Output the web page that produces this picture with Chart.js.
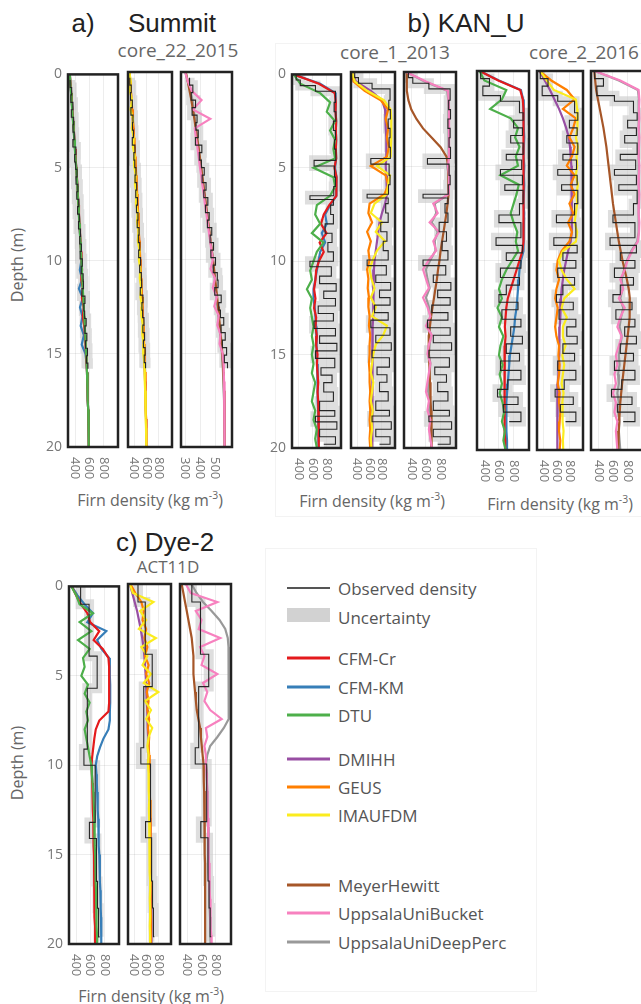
<!DOCTYPE html>
<html>
<head>
<meta charset="utf-8">
<script src="https://cdn.jsdelivr.net/npm/chart.js@4.4.1/dist/chart.umd.min.js"></script>
<style>
  body { margin: 0; width: 641px; height: 1004px; overflow: hidden; background: #fff; position: relative; font-family: "Open Sans", sans-serif; }
  canvas { position: absolute; }
  .t { position: absolute; white-space: nowrap; line-height: 1; transform: translate(-50%, -50%); }
  .big { font-family: "Liberation Sans", Arial, sans-serif; font-size: 26px; color: #222; }
  .sub { font-size: 19px; color: #666; }
  .ax { font-size: 16px; color: #666; }
  .rot { transform: translate(-50%, -50%) rotate(-90deg); }
  .box { position: absolute; border: 1px solid #f3f3f3; }
  .leg { position: absolute; left: 338px; font-size: 17px; color: #555; line-height: 1; transform: translateY(-50%); white-space: nowrap; }
  .sw { position: absolute; left: 287px; width: 43px; height: 3px; transform: translateY(-50%); }
</style>
</head>
<body>

<div class="box" style="left:275px; top:43px; width:380px; height:472px;"></div>
<div class="box" style="left:265px; top:548px; width:270px; height:442px;"></div>

<div class="t big" style="left:83px; top:23px;">a)</div>
<div class="t big" style="left:172px; top:23px;">Summit</div>
<div class="t sub" style="left:178px; top:50px;">core_22_2015</div>
<div class="t big" style="left:466px; top:23px;">b) KAN_U</div>
<div class="t sub" style="left:395px; top:52px;">core_1_2013</div>
<div class="t sub" style="left:584px; top:52px;">core_2_2016</div>
<div class="t big" style="left:165px; top:542px;">c) Dye-2</div>
<div class="t sub" style="left:168px; top:566px; font-size:17px;">ACT11D</div>

<div class="t ax rot" style="left:17px; top:265px;">Depth (m)</div>
<div class="t ax rot" style="left:17px; top:763px;">Depth (m)</div>
<div class="t ax" style="left:150px; top:499px;">Firn density (kg m<sup style="font-size:0.65em">-3</sup>)</div>
<div class="t ax" style="left:372px; top:500px;">Firn density (kg m<sup style="font-size:0.65em">-3</sup>)</div>
<div class="t ax" style="left:560px; top:503px;">Firn density (kg m<sup style="font-size:0.65em">-3</sup>)</div>
<div class="t ax" style="left:151px; top:995px;">Firn density (kg m<sup style="font-size:0.65em">-3</sup>)</div>

<div class="sw" style="top:588px; background:#555; height:2px;"></div><div class="leg" style="top:588px;">Observed density</div>
<div class="sw" style="top:615px; background:#d2d2d2; height:14px;"></div><div class="leg" style="top:617px;">Uncertainty</div>
<div class="sw" style="top:658px; background:#e41a1c;"></div><div class="leg" style="top:658px;">CFM-Cr</div>
<div class="sw" style="top:687px; background:#377eb8;"></div><div class="leg" style="top:687px;">CFM-KM</div>
<div class="sw" style="top:715px; background:#4daf4a;"></div><div class="leg" style="top:715px;">DTU</div>
<div class="sw" style="top:759px; background:#984ea3;"></div><div class="leg" style="top:759px;">DMIHH</div>
<div class="sw" style="top:787px; background:#ff7f00;"></div><div class="leg" style="top:787px;">GEUS</div>
<div class="sw" style="top:815px; background:#fbec1e;"></div><div class="leg" style="top:815px;">IMAUFDM</div>
<div class="sw" style="top:885px; background:#a65628;"></div><div class="leg" style="top:885px;">MeyerHewitt</div>
<div class="sw" style="top:913px; background:#f781bf;"></div><div class="leg" style="top:913px;">UppsalaUniBucket</div>
<div class="sw" style="top:942px; background:#999999;"></div><div class="leg" style="top:942px;">UppsalaUniDeepPerc</div>

<script>
// depth grid shared by all model profiles (m)
const modelDepth = [0,0.5,1,1.5,2,2.5,3,3.5,4,4.5,5,5.5,6,6.5,7,7.5,8,8.5,9,9.5,10,10.5,11,11.5,12,12.5,13,13.5,14,14.5,15,15.5,16,16.5,17,17.5,18,18.5,19,19.5,20];

// ---- Summit, core_22_2015
const summitObsDepth = [0.3,0.7,1.1,1.5,1.9,2.3,2.7,3.1,3.5,3.9,4.3,4.7,5.1,5.5,5.9,6.3,6.7,7.1,7.5,7.9,8.3,8.7,9.1,9.5,9.9,10.3,10.7,11.1,11.5,11.9,12.3,12.7,13.1,13.5,13.9,14.3,14.7,15.1,15.5,15.8];
const summitObs = [330,352,341,370,347,380,372,388,369,412,395,409,428,414,440,425,452,436,461,449,478,467,490,472,503,488,515,520,498,541,525,536,558,540,568,549,577,562,583,583];
const summitCfmCr = [326,336,345,355,364,373,383,391,400,408,418,426,434,441,449,456,463,470,478,485,492,500,488,512,498,522,510,530,540,548,556,563,570,575,579,583,587,590,593,596,598];
const summitCfmKm = [326,335,344,354,363,372,382,390,399,407,417,425,433,440,448,455,462,469,477,484,490,468,500,455,510,470,505,480,525,495,548,563,570,575,579,583,587,590,593,596,598];
const summitDtu = [326,334,343,352,362,371,381,389,398,406,416,424,432,439,447,454,461,469,476,483,490,497,503,510,517,524,531,538,545,552,559,565,570,575,579,583,587,590,593,596,598];
const summitDmihh = [325,335,345,355,365,375,385,394,402,411,420,428,436,444,452,459,466,473,480,487,494,501,508,515,522,529,536,543,549,555,561,566,571,576,580,584,588,591,594,597,600];
const summitGeus = [326,336,347,358,368,378,389,398,406,415,424,432,440,448,456,463,470,477,484,491,498,505,512,519,526,533,540,547,554,560,566,571,575,579,583,587,590,593,596,599,601];
const summitImau = [322,345,330,365,340,380,362,392,380,410,398,425,412,440,428,455,445,470,458,485,475,498,490,512,500,525,515,540,530,552,545,563,568,573,577,581,585,588,591,594,597];
const summitMeyer = [305,318,330,342,352,362,371,380,389,398,406,414,422,430,438,446,454,462,470,478,486,493,500,507,514,520,526,532,538,543,548,552,555,558,560,562,563,564,565,566,566];
const summitBucket = [300,318,345,410,352,468,365,372,382,390,398,407,415,424,432,441,450,458,467,475,486,470,500,485,512,495,525,515,536,530,550,556,558,560,561,562,563,564,564,565,565];
const summitDeepPerc = [302,318,335,350,358,366,374,382,390,398,406,414,422,430,438,446,454,462,470,478,486,492,498,504,510,516,522,528,534,540,546,550,553,556,558,560,561,562,563,564,565];

// ---- KAN_U, core_1_2013
const kan1ObsDepth = [0,0.3,0.6,0.9,1.5,2,2.5,3,3.5,4,4.6,4.9,5.5,6,6.5,6.7,7,7.5,8,8.5,9,9.5,10,10.3,10.8,11.2,11.6,12,12.4,12.8,13.2,13.6,14,14.4,14.8,15.2,15.7,16.1,16.5,17,17.5,18,18.3,18.6,19,19.4,19.8];
const kan1Obs = [360,420,640,930,910,935,900,930,915,935,620,915,930,905,560,900,860,900,780,880,820,900,560,870,700,940,760,930,680,900,620,930,700,950,640,920,720,880,760,900,700,920,640,950,700,930,760];
const kan1CfmCr = [324,690,920,935,930,940,935,940,935,940,915,945,940,945,840,760,720,800,700,760,690,650,640,620,640,620,650,640,660,650,670,660,670,680,670,680,690,680,690,690,690];
const kan1CfmKm = [324,708,930,935,930,940,935,940,935,940,924,945,940,945,852,780,804,732,780,708,684,660,636,612,612,630,640,650,650,660,660,665,670,670,675,675,680,680,684,684,684];
const kan1Dtu = [324,420,708,852,804,924,852,924,900,924,612,900,924,852,660,636,708,588,756,660,612,564,588,516,588,564,588,612,588,612,588,612,588,636,612,588,636,612,660,636,660];
const kan1Dmihh = [316,380,620,800,850,860,860,870,870,870,860,870,880,880,850,800,760,740,720,700,680,670,665,660,660,655,655,650,650,650,648,648,645,645,645,645,642,642,640,640,640];
const kan1Geus = [316,340,520,780,900,860,900,880,910,880,620,860,900,840,600,580,640,560,620,580,600,560,580,570,590,580,600,590,610,600,600,590,600,600,610,600,610,600,610,600,610];
const kan1Imau = [316,360,560,830,940,950,950,950,945,940,720,930,900,880,680,620,800,700,850,720,650,600,630,680,620,700,640,880,820,700,660,640,620,660,640,620,650,630,640,620,630];
const kan1Meyer = [337,337,340,360,400,470,560,680,800,880,905,910,910,905,895,880,860,840,820,800,785,765,750,730,710,690,670,655,640,635,640,645,650,655,660,665,670,672,675,678,680];
const kan1Bucket = [330,600,900,910,915,915,915,915,915,915,900,915,915,910,700,760,650,780,700,740,640,560,600,640,560,620,660,600,680,640,620,660,640,620,600,640,620,660,640,660,680];
const kan1DeepPerc = [330,580,890,905,910,910,910,910,910,910,890,910,910,905,720,740,680,760,720,730,660,600,620,650,600,640,660,630,670,650,640,660,650,640,630,650,640,660,650,665,675];

// ---- KAN_U, core_2_2016
const kan2ObsDepth = [0,0.4,0.8,1.3,1.6,2.2,2.6,3,3.4,3.8,4.4,4.7,5.2,5.5,6,6.3,7,7.6,8,8.8,9.2,9.6,10,10.4,10.9,11.3,11.8,12.2,12.6,13.1,13.5,14,14.4,14.9,15.3,15.8,16.3,16.8,17.2,17.6,18,18.5];
const kan2Obs = [350,470,380,620,880,930,800,920,760,930,700,910,620,920,680,930,880,600,900,560,920,700,900,620,880,700,600,860,640,900,760,920,700,880,620,900,720,580,860,660,900,740];
const kan2CfmCr = [337,590,890,925,935,930,935,940,935,930,940,935,940,935,930,940,935,930,935,920,880,840,800,760,720,700,690,680,690,680,670,680,670,680,670,680,675,680,680,685,685];
const kan2CfmKm = [337,600,900,930,940,935,940,945,940,935,945,940,945,940,935,945,940,935,940,930,900,880,870,860,850,840,820,810,790,770,750,740,730,720,710,700,700,700,705,710,710];
const kan2Dtu = [337,400,700,640,480,760,860,820,880,830,860,620,870,840,800,760,800,850,830,860,780,700,640,600,640,580,640,600,660,620,600,650,610,640,610,650,670,640,680,660,690];
const kan2Dmihh = [340,420,500,570,640,700,750,790,810,820,830,830,840,840,840,840,840,830,820,780,750,720,700,680,670,660,660,650,650,640,640,630,630,620,620,620,620,610,610,610,610];
const kan2Geus = [340,520,760,880,700,900,860,800,880,840,760,880,820,880,800,860,780,840,800,680,620,600,640,600,580,620,600,580,600,640,630,650,640,620,650,640,660,650,640,660,650];
const kan2Imau = [350,450,560,900,920,930,920,900,930,910,920,900,930,910,920,900,880,920,900,700,640,680,760,880,720,680,760,700,700,740,690,720,700,680,710,690,700,690,710,700,705];
const kan2Meyer = [345,357,370,395,420,445,470,490,510,525,540,555,570,585,600,620,640,660,680,705,730,760,790,815,830,830,825,815,800,785,770,755,740,725,712,700,692,685,679,674,670];
const kan2Bucket = [350,700,950,960,955,960,950,960,955,950,960,955,950,960,955,950,960,955,940,860,800,760,700,740,680,760,700,660,720,680,640,660,620,640,600,640,620,660,640,650,660];
const kan2DeepPerc = [350,680,940,955,950,955,945,955,950,945,955,950,945,955,950,945,955,950,930,850,790,750,720,730,700,740,710,690,720,700,680,690,670,680,660,680,670,690,680,690,700];

// ---- Dye-2, ACT11D
const dyeObsDepth = [0,1,3.9,5.7,9.1,10,13.2,14.1,16.5,18,19.6];
const dyeObs = [465,585,700,560,512,672,590,690,705,720,735];
const dyeCfmCr = [340,400,470,560,600,730,650,780,860,870,870,870,870,870,860,730,680,660,645,630,620,625,630,635,640,640,645,645,650,650,655,655,660,660,660,665,665,665,670,670,670];
const dyeCfmKm = [340,420,520,640,560,830,700,760,870,880,880,885,885,885,880,880,860,790,740,700,680,690,695,700,705,710,715,720,720,725,730,735,740,740,745,750,750,755,755,760,760];
const dyeDtu = [333,404,450,640,451,617,428,593,499,522,475,570,522,593,546,570,522,546,570,593,617,625,635,645,650,655,660,663,666,669,672,675,678,681,684,687,690,692,695,698,700];
const dyeDmihh = [330,370,410,450,480,510,535,555,570,580,590,598,605,612,618,623,628,633,638,642,646,650,653,656,659,662,665,667,669,671,673,675,677,679,681,683,685,687,689,690,690];
const dyeGeus = [340,420,520,560,540,600,570,620,580,640,600,650,610,640,620,650,630,650,640,650,655,658,660,662,664,666,668,670,671,672,673,674,675,676,677,678,679,680,680,680,680];
const dyeImau = [330,380,720,500,600,480,760,520,620,540,680,560,800,580,680,600,700,640,620,640,630,640,645,640,650,645,650,655,650,655,660,660,660,665,665,660,665,665,660,665,665];
const dyeMeyer = [323,347,370,394,417,440,463,475,487,487,487,498,510,521,533,556,580,591,603,615,627,630,633,636,639,641,643,645,646,647,648,649,650,650,650,650,650,650,650,650,650];
const dyeBucket = [380,450,820,520,600,560,860,580,640,600,820,620,680,640,720,880,660,680,640,660,660,670,675,680,680,685,690,690,695,700,700,705,710,710,715,720,720,725,730,735,740];
const dyeDeepPerc = [460,530,620,740,850,930,965,975,980,980,980,980,980,980,975,970,910,820,720,680,660,670,675,680,682,685,688,690,693,695,698,700,703,706,709,712,715,718,722,726,730];

const depthTicks = [0, 5, 10, 15, 20];
const densityTicks = [400, 600, 800];
const summitNarrowTicks = [300, 400, 500];

const colors = {
  cfmCr: '#e41a1c', cfmKm: '#377eb8', dtu: '#4daf4a',
  dmihh: '#984ea3', geus: '#ff7f00', imau: '#fbec1e',
  meyer: '#a65628', bucket: '#f781bf', deepPerc: '#999999'
};

const sites = {
  summit: { obsDepth: summitObsDepth, obs: summitObs,
    models: { cfmCr: summitCfmCr, cfmKm: summitCfmKm, dtu: summitDtu, dmihh: summitDmihh, geus: summitGeus, imau: summitImau, meyer: summitMeyer, bucket: summitBucket, deepPerc: summitDeepPerc } },
  kan1: { obsDepth: kan1ObsDepth, obs: kan1Obs,
    models: { cfmCr: kan1CfmCr, cfmKm: kan1CfmKm, dtu: kan1Dtu, dmihh: kan1Dmihh, geus: kan1Geus, imau: kan1Imau, meyer: kan1Meyer, bucket: kan1Bucket, deepPerc: kan1DeepPerc } },
  kan2: { obsDepth: kan2ObsDepth, obs: kan2Obs,
    models: { cfmCr: kan2CfmCr, cfmKm: kan2CfmKm, dtu: kan2Dtu, dmihh: kan2Dmihh, geus: kan2Geus, imau: kan2Imau, meyer: kan2Meyer, bucket: kan2Bucket, deepPerc: kan2DeepPerc } },
  dye: { obsDepth: dyeObsDepth, obs: dyeObs,
    models: { cfmCr: dyeCfmCr, cfmKm: dyeCfmKm, dtu: dyeDtu, dmihh: dyeDmihh, geus: dyeGeus, imau: dyeImau, meyer: dyeMeyer, bucket: dyeBucket, deepPerc: dyeDeepPerc } }
};

// first model listed is drawn on top
const groupA = ['dtu', 'cfmCr', 'cfmKm'];
const groupB = ['imau', 'geus', 'dmihh'];
const groupC = ['bucket', 'meyer', 'deepPerc'];

const panels = [
  { site: 'summit', left: 68,  top: 72,  w: 50, h: 375, group: groupA, range: [300, 1010], ticks: densityTicks, yLabels: true },
  { site: 'summit', left: 128, top: 72,  w: 44, h: 375, group: groupB, range: [300, 1010], ticks: densityTicks },
  { site: 'summit', left: 181, top: 72,  w: 51, h: 375, group: groupC, range: [273, 613],  ticks: summitNarrowTicks },
  { site: 'kan1',   left: 292, top: 72,  w: 49, h: 376, group: groupA, range: [300, 1010], ticks: densityTicks, yLabels: true },
  { site: 'kan1',   left: 351, top: 72,  w: 44, h: 376, group: groupB, range: [300, 1010], ticks: densityTicks },
  { site: 'kan1',   left: 404, top: 72,  w: 52, h: 376, group: groupC, range: [300, 1010], ticks: densityTicks },
  { site: 'kan2',   left: 477, top: 71,  w: 52, h: 379, group: groupA, range: [300, 1010], ticks: densityTicks },
  { site: 'kan2',   left: 537, top: 71,  w: 46, h: 379, group: groupB, range: [300, 1010], ticks: densityTicks },
  { site: 'kan2',   left: 591, top: 71,  w: 52, h: 379, group: groupC, range: [300, 1010], ticks: densityTicks },
  { site: 'dye',    left: 69,  top: 584, w: 50, h: 360, group: groupA, range: [300, 1010], ticks: densityTicks, yLabels: true },
  { site: 'dye',    left: 128, top: 584, w: 43, h: 360, group: groupB, range: [300, 1010], ticks: densityTicks },
  { site: 'dye',    left: 180, top: 584, w: 51, h: 360, group: groupC, range: [300, 1010], ticks: densityTicks }
];

// rotated density labels under each subplot + black frame
const framePlugin = {
  id: 'frame',
  afterDraw(chart) {
    const { ctx, chartArea, scales } = chart;
    const x = scales.x;
    ctx.save();
    ctx.fillStyle = '#777';
    ctx.font = '13px "Open Sans"';
    ctx.textAlign = 'left';
    ctx.textBaseline = 'middle';
    x.ticks.forEach(t => {
      ctx.save();
      ctx.translate(x.getPixelForValue(t.value), chartArea.bottom + 10);
      ctx.rotate(Math.PI / 2);
      ctx.fillText(String(t.value), 0, 0);
      ctx.restore();
    });
    ctx.strokeStyle = '#222';
    ctx.lineWidth = 2.5;
    ctx.strokeRect(chartArea.left, chartArea.top, chartArea.right - chartArea.left, chartArea.bottom - chartArea.top);
    ctx.restore();
  }
};

function profile(depths, values) {
  return depths.map((d, i) => ({ x: values[i], y: d }));
}

panels.forEach(p => {
  const site = sites[p.site];
  const padL = p.yLabels ? 34 : 4, padR = 4, padT = 12, padB = 40;
  const cv = document.createElement('canvas');
  cv.width = p.w + padL + padR;
  cv.height = p.h + padT + padB;
  cv.style.left = (p.left - padL) + 'px';
  cv.style.top = (p.top - padT) + 'px';
  document.body.appendChild(cv);

  const obsPoints = profile(site.obsDepth, site.obs);
  const datasets = [{
    data: obsPoints, borderColor: '#262626', borderWidth: 1.1, stepped: 'after', order: 1, clip: 0
  }];
  p.group.forEach(key => {
    datasets.push({
      data: profile(modelDepth, site.models[key]),
      borderColor: colors[key], borderWidth: 2.2, order: 2, clip: 0
    });
  });
  datasets.push({
    data: obsPoints, borderColor: 'rgba(200,200,200,0.6)', borderWidth: 10, stepped: 'after', order: 3, clip: 0
  });

  new Chart(cv, {
    type: 'line',
    data: { datasets },
    options: {
      responsive: false,
      animation: false,
      devicePixelRatio: 1,
      layout: { padding: { left: p.yLabels ? 0 : padL, right: padR, top: padT, bottom: padB } },
      plugins: { legend: { display: false }, tooltip: { enabled: false } },
      elements: {
        point: { radius: 0 },
        line: { tension: 0, borderJoinStyle: 'miter', borderCapStyle: 'butt' }
      },
      scales: {
        x: {
          type: 'linear', min: p.range[0], max: p.range[1],
          afterBuildTicks: s => { s.ticks = p.ticks.map(v => ({ value: v })); },
          afterFit: s => { s.height = 0; },
          ticks: { display: false },
          grid: { color: 'rgba(0,0,0,0.07)', drawTicks: false },
          border: { display: false }
        },
        y: {
          type: 'linear', reverse: true, min: 0, max: 20,
          afterBuildTicks: s => { s.ticks = depthTicks.map(v => ({ value: v })); },
          afterFit: s => { s.width = p.yLabels ? padL : 0; },
          ticks: { display: !!p.yLabels, padding: 6, color: '#777', font: { family: 'Open Sans', size: 14 } },
          grid: { color: 'rgba(0,0,0,0.07)', drawTicks: false },
          border: { display: false }
        }
      }
    },
    plugins: [framePlugin]
  });
});
</script>
</body>
</html>
